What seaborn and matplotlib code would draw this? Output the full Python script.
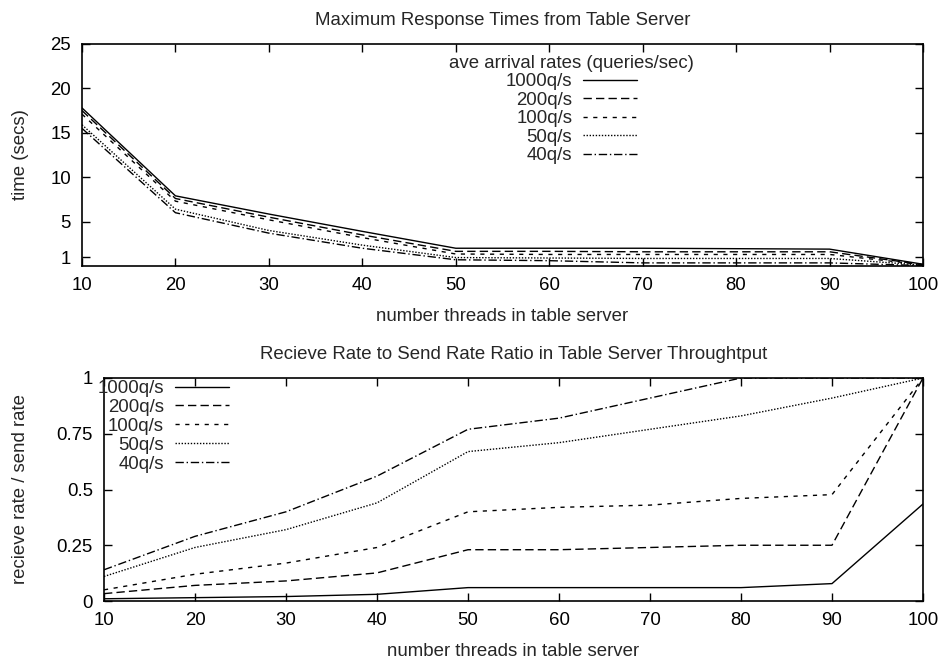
import numpy as np
import pandas as pd
import matplotlib
matplotlib.use("Agg")
import matplotlib.pyplot as plt
import seaborn as sns

# data
threads = [10, 20, 30, 40, 50, 60, 70, 80, 90, 100]
rates = ["1000q/s", "200q/s", "100q/s", "50q/s", "40q/s"]

# max response times (secs)
max_1000 = [17.8, 7.9, 5.85, 3.9, 2.0, 2.0, 2.0, 1.95, 1.9, 0.2]
max_200 = [17.5, 7.6, 5.5, 3.5, 1.65, 1.65, 1.6, 1.6, 1.6, 0.15]
max_100 = [17.1, 7.3, 5.2, 3.2, 1.35, 1.3, 1.3, 1.3, 1.3, 0.15]
max_50 = [15.9, 6.4, 4.0, 2.35, 0.95, 0.9, 0.85, 0.85, 0.85, 0.1]
max_40 = [15.5, 6.0, 3.7, 2.0, 0.7, 0.6, 0.35, 0.35, 0.35, 0.05]

# receive rate / send rate
ratio_1000 = [0.01, 0.015, 0.02, 0.03, 0.06, 0.06, 0.06, 0.06, 0.078, 0.435]
ratio_200 = [0.033, 0.07, 0.09, 0.126, 0.23, 0.23, 0.24, 0.25, 0.25, 1.0]
ratio_100 = [0.05, 0.12, 0.17, 0.24, 0.40, 0.42, 0.43, 0.46, 0.477, 1.0]
ratio_50 = [0.11, 0.24, 0.32, 0.44, 0.67, 0.71, 0.77, 0.83, 0.91, 1.0]
ratio_40 = [0.14, 0.29, 0.40, 0.56, 0.77, 0.82, 0.91, 1.0, 1.0, 1.0]

styles = ["-", (0, (6, 3)), (0, (3, 4)), (0, (1, 1.2)), (0, (6, 2, 1, 2))]
FS = 13.4

sns.set_style("ticks")
plt.rcParams["font.family"] = ["Liberation Sans", "DejaVu Sans"]
plt.rcParams["font.size"] = FS

fig = plt.figure(figsize=(9.43, 6.6), dpi=100)
ax1 = fig.add_axes([82 / 943, 1 - 266 / 660, 841 / 943, 222 / 660])
ax2 = fig.add_axes([104 / 943, 1 - 601 / 660, 819 / 943, 223 / 660])

# Top: maximum response times
for name, vals, ls in zip(rates, [max_1000, max_200, max_100, max_50, max_40], styles):
    sns.lineplot(x=threads, y=vals, ax=ax1, color="black", linewidth=1, linestyle=ls, label=name)
ax1.set_xlim(10, 100)
ax1.set_ylim(0, 25)
ax1.set_xticks(threads)
ax1.set_yticks([1, 5, 10, 15, 20, 25])
ax1.set_title("Maximum Response Times from Table Server", pad=14, fontsize=FS)
ax1.set_xlabel("number threads in table server")
ax1.set_ylabel("time (secs)")
ax1.xaxis.set_label_coords(0.5, -0.19)
ax1.yaxis.set_label_coords(-0.0634, 0.5)
ax1.legend(title="ave arrival rates (queries/sec)", frameon=False, markerfirst=False,
           loc="upper center", bbox_to_anchor=(0.582, 0.951), borderpad=0, borderaxespad=0,
           handlelength=2.9, labelspacing=0.08, handletextpad=0.6, fontsize=FS,
           title_fontsize=FS)

# Bottom: receive/send ratio
for name, vals, ls in zip(rates, [ratio_1000, ratio_200, ratio_100, ratio_50, ratio_40], styles):
    sns.lineplot(x=threads, y=vals, ax=ax2, color="black", linewidth=1, linestyle=ls, label=name)
ax2.set_xlim(10, 100)
ax2.set_ylim(0, 1)
ax2.set_xticks(threads)
ax2.set_yticks([0, 0.25, 0.5, 0.75, 1])
ax2.set_yticklabels(["0", "0.25", "0.5", "0.75", "1"])
ax2.set_title("Recieve Rate to Send Rate Ratio in Table Server Throughtput", pad=14, fontsize=FS)
ax2.set_xlabel("number threads in table server")
ax2.set_ylabel("recieve rate / send rate")
ax2.xaxis.set_label_coords(0.5, -0.19)
ax2.yaxis.set_label_coords(-0.0913, 0.5)
ax2.legend(frameon=False, markerfirst=False, loc="upper right",
           bbox_to_anchor=(0.1526, 0.991), borderpad=0, borderaxespad=0,
           handlelength=2.9, labelspacing=0.1, handletextpad=0.6, fontsize=FS)

for ax in (ax1, ax2):
    ax.tick_params(direction="in", top=True, right=True, length=6, width=1, pad=8,
                   labelsize=FS, colors="black")
    for s in ax.spines.values():
        s.set_linewidth(1.2)
        s.set_color("black")

fig.savefig("out.png", dpi=100)
